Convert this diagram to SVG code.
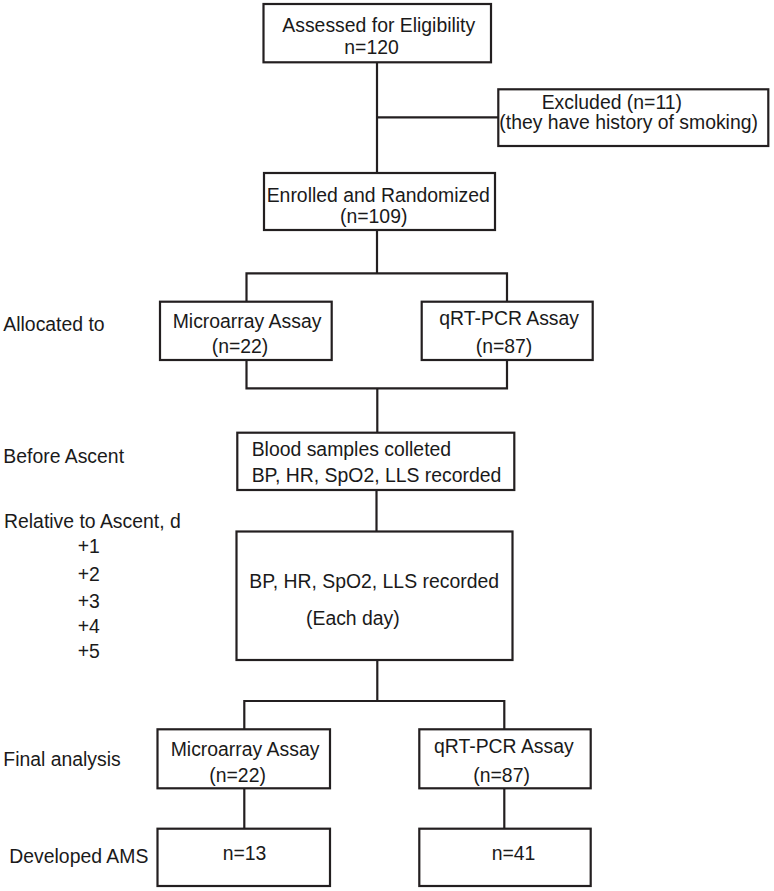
<svg xmlns="http://www.w3.org/2000/svg" width="774" height="891" viewBox="0 0 774 891">
<style>
  .box { fill: #ffffff; stroke: #231f20; stroke-width: 2.2; }
  .conn { fill: none; stroke: #231f20; stroke-width: 2.2; }
  text { font-family: "Liberation Sans", Arial, sans-serif; font-size: 19.4px; fill: #1a1a1a; }
</style>
<rect width="774" height="891" fill="#ffffff"/>
<g id="connectors">
  <path class="conn" d="M377 62 V173"/>
  <path class="conn" d="M377 117.3 H498.3"/>
  <path class="conn" d="M377 230 V273.3"/>
  <path class="conn" d="M246.5 301.7 V273.3 H507 V301.7"/>
  <path class="conn" d="M246.5 360 V388.3 H507 V360"/>
  <path class="conn" d="M377.3 388.3 V432.7"/>
  <path class="conn" d="M376.5 490 V531.5"/>
  <path class="conn" d="M377.3 660 V701"/>
  <path class="conn" d="M244.3 729.3 V701 H504.3 V729.3"/>
  <path class="conn" d="M244.3 788.3 V828.7"/>
  <path class="conn" d="M504.3 788.3 V828.7"/>
</g>
<g id="assessed">
  <rect class="box" x="263.5" y="4" width="227.5" height="58.3"/>
  <text x="282.3" y="32.3">Assessed for Eligibility</text>
  <text x="344.3" y="54.3">n=120</text>
</g>
<g id="excluded">
  <rect class="box" x="498.3" y="89.3" width="270" height="56.7"/>
  <text x="541.7" y="109.3">Excluded (n=11)</text>
  <text x="499.3" y="129.3">(they have history of smoking)</text>
</g>
<g id="enrolled">
  <rect class="box" x="264" y="173" width="231" height="57"/>
  <text x="266.7" y="202.3">Enrolled and Randomized</text>
  <text x="340" y="222.7">(n=109)</text>
</g>
<g id="alloc-micro">
  <rect class="box" x="160" y="301.7" width="171.7" height="58.3"/>
  <text x="172.7" y="328.3">Microarray Assay</text>
  <text x="211.7" y="353.3">(n=22)</text>
</g>
<g id="alloc-qrt">
  <rect class="box" x="421.7" y="301.7" width="171" height="58.3"/>
  <text x="439.3" y="325">qRT-PCR Assay</text>
  <text x="475.7" y="353.3">(n=87)</text>
</g>
<g id="blood">
  <rect class="box" x="237.3" y="432.7" width="277" height="57.3"/>
  <text x="251.7" y="455.7">Blood samples colleted</text>
  <text x="251.7" y="481.7">BP, HR, SpO2, LLS recorded</text>
</g>
<g id="daily">
  <rect class="box" x="236.5" y="531.5" width="276" height="128.5"/>
  <text x="249.3" y="588.3">BP, HR, SpO2, LLS recorded</text>
  <text x="306" y="625">(Each day)</text>
</g>
<g id="final-micro">
  <rect class="box" x="157.5" y="729.3" width="172.5" height="59"/>
  <text x="170.7" y="756">Microarray Assay</text>
  <text x="209.3" y="781.7">(n=22)</text>
</g>
<g id="final-qrt">
  <rect class="box" x="419.3" y="729.3" width="171.4" height="59"/>
  <text x="434" y="753.3">qRT-PCR Assay</text>
  <text x="473.3" y="781.7">(n=87)</text>
</g>
<g id="ams-micro">
  <rect class="box" x="157.5" y="828.7" width="172.5" height="57.3"/>
  <text x="222.7" y="860">n=13</text>
</g>
<g id="ams-qrt">
  <rect class="box" x="419.3" y="828.7" width="171.4" height="57.3"/>
  <text x="491.7" y="860">n=41</text>
</g>
<g id="labels">
  <text x="3.3" y="330.7">Allocated to</text>
  <text x="3.3" y="463.3">Before Ascent</text>
  <text x="4" y="528.3">Relative to Ascent, d</text>
  <text x="77.7" y="552.7">+1</text>
  <text x="77.7" y="580.7">+2</text>
  <text x="77.7" y="608.3">+3</text>
  <text x="77.7" y="633.3">+4</text>
  <text x="77.7" y="658.3">+5</text>
  <text x="3.3" y="765.7">Final analysis</text>
  <text x="9.3" y="862.7">Developed AMS</text>
</g>
</svg>
